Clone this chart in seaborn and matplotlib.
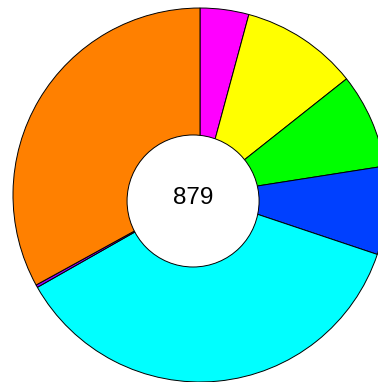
import matplotlib
matplotlib.use("Agg")
import matplotlib.pyplot as plt
import seaborn as sns

sns.set_theme(style="white")
plt.rcParams["font.family"] = ["Liberation Sans", "DejaVu Sans"]

# === Data (clockwise from 12 o'clock) ===
categories = ["A", "B", "C", "D", "E", "F", "G"]
counts = [37, 89, 72, 67, 322, 2, 290]
colors = ["#FF00FF", "#FFFF00", "#00FF00", "#0040FF", "#00FFFF", "#9000FF", "#FF8000"]
total_label = str(sum(counts))

fig = plt.figure(figsize=(3.78, 3.82), dpi=100)
ax = fig.add_axes([0, 0, 1, 1])

ax.pie(counts, colors=colors, startangle=90, counterclock=False, radius=1.0,
       wedgeprops=dict(edgecolor="black", linewidth=0.7))

# white hole, slightly off-centre like the original
hole = plt.Circle((-0.037, -0.032), 0.353, facecolor="white", edgecolor="black",
                  linewidth=0.7, zorder=5)
ax.add_patch(hole)
ax.text(-0.037, -0.016, total_label, ha="center", va="center", fontsize=17.5,
        color="black", zorder=6)

ax.set_xlim(-1.0695, 0.952)
ax.set_ylim(-1.0, 1.0428)
ax.set_aspect("equal")
ax.axis("off")

fig.savefig("out.png", dpi=100)
